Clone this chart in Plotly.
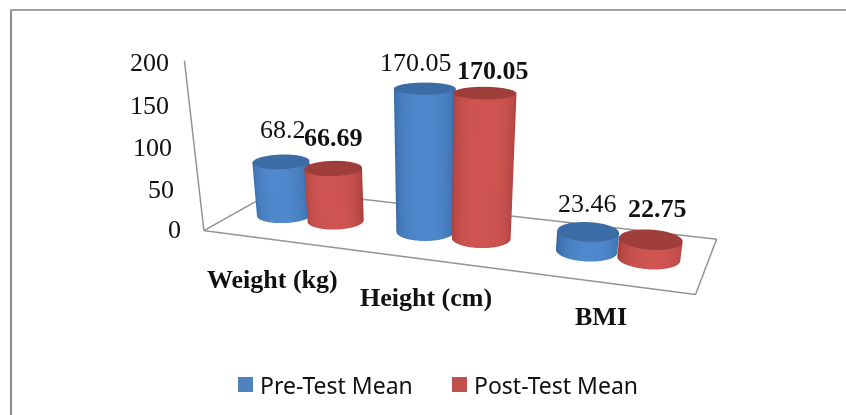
import numpy as np
import plotly.graph_objects as go

categories = ["Weight (kg)", "Height (cm)", "BMI"]
pre_test = [68.2, 170.05, 23.46]
post_test = [66.69, 170.05, 22.75]
z_ticks = [0, 50, 100, 150, 200]

# camera and scene proportions
W, H = 846, 830
eye = np.array([1.2841, -3.7393, 0.9985])
cen = np.array([-0.7009, 1.5661, -2.1782])
ax_, ay_, az_ = 2.0, 0.6332, 0.6705

# cylinder styling
R = 0.119
cat_x = [0.50, 1.475, 2.49]
offset = 0.182
depth = 0.49
view = eye[:2] - np.array([(cat_x[1] / 3 - .5) * ax_, (depth - .5) * ay_])
view = view / np.linalg.norm(view)
SERIES = [("Pre-Test Mean", pre_test, -offset, "#4f81bd", [[0, "#2c5c94"], [1, "#4f88cc"]], "#3b6ca6"),
          ("Post-Test Mean", post_test, offset, "#c0504d", [[0, "#9c3936"], [1, "#d05552"]], "#9f3d3b")]
FLAT = dict(ambient=1, diffuse=0, specular=0, fresnel=0)

fig = go.Figure()
th = np.linspace(0, 2 * np.pi, 97)
rx, ry = R * 3 / ax_, R / ay_
for name, vals, off, col, cs, topc in SERIES:
    for cx, v in zip(cat_x, vals):
        xc = cx + off
        X = np.array([xc + rx * np.cos(th)] * 2)
        Y = np.array([depth + ry * np.sin(th)] * 2)
        Z = np.array([np.zeros_like(th), np.full_like(th, v)])
        s = np.clip(np.cos(th) * view[0] + np.sin(th) * view[1], 0, 1) ** 0.7
        fig.add_trace(go.Surface(x=X, y=Y, z=Z, surfacecolor=np.array([s, s]), colorscale=cs, cmin=0, cmax=1,
                                 showscale=False, hoverinfo='skip', lighting=FLAT, name=name))
        rr = np.linspace(0, 1, 6)
        X2 = xc + np.outer(rr, rx * np.cos(th))
        Y2 = depth + np.outer(rr, ry * np.sin(th))
        Z2 = np.full_like(X2, v)
        fig.add_trace(go.Surface(x=X2, y=Y2, z=Z2, surfacecolor=np.zeros_like(X2), colorscale=[[0, topc], [1, topc]],
                                 showscale=False, hoverinfo='skip', lighting=FLAT, name=name))

# floor outline and value axis
fig.add_trace(go.Scatter3d(x=[0, 3, 3, 0, 0, 0], y=[0, 0, 1, 1, 0, 0], z=[0, 0, 0, 0, 0, 200], mode='lines',
                           line=dict(color='#949494', width=3), hoverinfo='skip', showlegend=False))

SERIF = "Liberation Serif"
ann = []
tick_shift = [(-21, 1), (-23, 1), (-21, 2), (-19, 0), (-13, -2)]
for t, sh in zip(z_ticks, tick_shift):
    ann.append(dict(x=0, y=0, z=t, text=str(t), showarrow=False, xanchor='right', yanchor='middle',
                    xshift=sh[0], yshift=sh[1], font=dict(family=SERIF, size=26, color='#111')))
pre_shift = [(2, 32), (-9, 26), (-1, 28)]
post_shift = [(0, 31), (8, 22), (7, 31)]
for cx, v, sh in zip(cat_x, pre_test, pre_shift):
    ann.append(dict(x=cx - offset, y=depth, z=v, text=str(v), showarrow=False, xshift=sh[0], yshift=sh[1],
                    font=dict(family=SERIF, size=26, color='#111')))
for cx, v, sh in zip(cat_x, post_test, post_shift):
    ann.append(dict(x=cx + offset, y=depth, z=v, text=f"<b>{v}</b>", showarrow=False, xshift=sh[0], yshift=sh[1],
                    font=dict(family=SERIF, size=26, color='#111')))
cat_shift = [(-3, -40), (-4, -37), (-1, -34)]
for i, (c, sh) in enumerate(zip(categories, cat_shift)):
    ann.append(dict(x=i + .5, y=0, z=0, text=f"<b>{c}</b>", showarrow=False, xshift=sh[0], yshift=sh[1],
                    font=dict(family=SERIF, size=26, color='#111')))


def px(x):
    return (x - 8) / W


def py(y):
    return 1 - (y - 8) / H


shapes = [dict(type='line', xref='paper', yref='paper', x0=px(11), x1=px(11), y0=py(10), y1=py(430),
               line=dict(color='#8c8c8c', width=2)),
          dict(type='line', xref='paper', yref='paper', x0=px(10), x1=px(850), y0=py(10), y1=py(10),
               line=dict(color='#a0a0a0', width=2))]
annotations = []
for (name, _, _, col, _, _), mx in zip(SERIES, [238, 452]):
    shapes.append(dict(type='rect', xref='paper', yref='paper', x0=px(mx), x1=px(mx + 15), y0=py(377), y1=py(392),
                       fillcolor=col, line=dict(width=0)))
    annotations.append(dict(xref='paper', yref='paper', x=px(mx + 20), y=py(385), text=name, showarrow=False,
                            xanchor='left', yanchor='middle', font=dict(family="Noto Sans", size=23, color='#111')))

fig.update_layout(
    width=W, height=H, margin=dict(l=0, r=0, t=0, b=0), showlegend=False, paper_bgcolor='white',
    shapes=shapes, annotations=annotations,
    scene=dict(domain=dict(x=[0, 1], y=[0, 1]), aspectmode='manual', aspectratio=dict(x=ax_, y=ay_, z=az_),
               annotations=ann,
               xaxis=dict(visible=False, range=[0, 3]), yaxis=dict(visible=False, range=[0, 1]),
               zaxis=dict(visible=False, range=[0, 200]),
               camera=dict(eye=dict(x=float(eye[0]), y=float(eye[1]), z=float(eye[2])),
                           center=dict(x=float(cen[0]), y=float(cen[1]), z=float(cen[2])),
                           up=dict(x=0, y=0, z=1))))
fig.write_html("out.html", default_width="846px", default_height="830px",
               post_script="document.documentElement.style.overflow='hidden';"
                           "document.body.style.margin='0';document.body.style.padding='8px 0 0 8px';"
                           "document.body.style.width='900px';")
